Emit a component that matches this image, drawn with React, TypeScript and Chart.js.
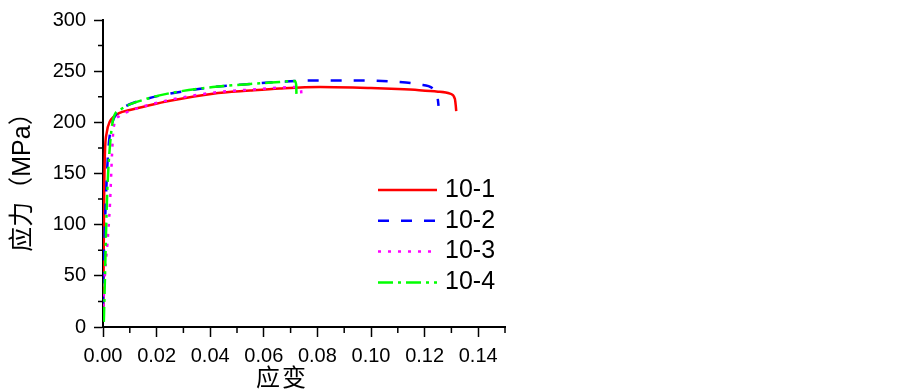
import React, { useEffect, useRef } from "react";
import { Chart, registerables } from "chart.js";

Chart.register(...registerables);

// ---- data ----
const seriesLabels = ["10-1", "10-2", "10-3", "10-4"];

const strain101 = [0.0001, 0.0004, 0.0007, 0.0014, 0.0026, 0.0038, 0.006, 0.01, 0.0163, 0.025, 0.041, 0.055, 0.066, 0.081, 0.1, 0.11, 0.118, 0.125, 0.1295, 0.1313, 0.1316, 0.1318];
const stress101 = [10, 120, 168, 190, 201, 205, 209, 212, 216, 221, 228, 231, 233, 234.5, 233.5, 232.5, 231.4, 230, 228, 223, 217, 211];

const strain102 = [0.0, 0.0001, 0.0006, 0.0011, 0.002, 0.0032, 0.0051, 0.008, 0.0163, 0.025, 0.041, 0.055, 0.066, 0.08, 0.095, 0.11, 0.118, 0.1235, 0.1247, 0.125, 0.1252];
const stress102 = [20, 48, 89, 127, 174, 196.5, 209, 215, 223, 228, 234.5, 237.5, 239.5, 241, 241, 239.5, 237, 232, 226, 221, 216];

const strain103 = [0.0001, 0.0008, 0.0016, 0.0026, 0.0034, 0.0038, 0.0045, 0.006, 0.01, 0.0163, 0.025, 0.041, 0.055, 0.066, 0.072, 0.0738, 0.0741];
const stress103 = [20, 55, 80, 120, 171, 190, 201, 206, 211, 216.5, 222, 229, 232, 234, 234.5, 233, 226];

const strain104 = [0.0003, 0.0007, 0.0011, 0.0016, 0.0026, 0.0038, 0.0063, 0.0163, 0.025, 0.041, 0.055, 0.066, 0.0716, 0.0721, 0.0722];
const stress104 = [5, 45, 89, 133, 177.5, 203, 212, 223, 228.5, 234.5, 237.5, 239.5, 240.5, 236, 225];

const xTickValues = [0, 0.02, 0.04, 0.06, 0.08, 0.1, 0.12, 0.14];
const xMinorTickValues = [0.01, 0.03, 0.05, 0.07, 0.09, 0.11, 0.13, 0.15];
const yTickValues = [0, 50, 100, 150, 200, 250, 300];
const yMinorTickValues = [25, 75, 125, 175, 225, 275];

const xTitle = "应变";
const yTitle = "应力（MPa）";

const colors = ["#ff0000", "#0000ff", "#ff00ff", "#00ff00"];
const dashes = [[], [11, 12], [3, 7], [15, 5, 3, 5]];

const toPoints = (xs: number[], ys: number[]) => xs.map((x, i) => ({ x, y: ys[i] }));

const decorPlugin = {
  id: "decor",
  afterDraw(chart: any) {
    const ctx = chart.ctx as CanvasRenderingContext2D;
    const xs = chart.scales.x;
    const ys = chart.scales.y;
    const area = chart.chartArea;
    ctx.save();
    // minor ticks
    ctx.strokeStyle = "#000";
    ctx.lineWidth = 1.5;
    ctx.beginPath();
    xMinorTickValues.forEach((v) => {
      const px = xs.getPixelForValue(v);
      ctx.moveTo(px, area.bottom);
      ctx.lineTo(px, area.bottom + 6);
    });
    yMinorTickValues.forEach((v) => {
      const py = ys.getPixelForValue(v);
      ctx.moveTo(area.left, py);
      ctx.lineTo(area.left - 5, py);
    });
    ctx.stroke();

    // legend
    const lx0 = 378, lx1 = 437, ly0 = 190, lstep = 30.8;
    chart.data.datasets.forEach((ds: any, i: number) => {
      const y = ly0 + i * lstep;
      ctx.beginPath();
      ctx.setLineDash(ds.borderDash || []);
      ctx.strokeStyle = ds.borderColor;
      ctx.lineWidth = ds.borderWidth;
      ctx.moveTo(lx0, y);
      ctx.lineTo(lx1, y);
      ctx.stroke();
      ctx.setLineDash([]);
      ctx.fillStyle = "#000";
      ctx.font = "25px 'Liberation Sans', Arial, sans-serif";
      ctx.textAlign = "left";
      ctx.textBaseline = "middle";
      ctx.fillText(ds.label, 445, y);
    });

    // axis titles
    ctx.fillStyle = "#000";
    ctx.font = "24px 'Liberation Sans', 'Noto Sans CJK SC', sans-serif";
    ctx.textAlign = "center";
    ctx.textBaseline = "middle";
    (ctx as any).letterSpacing = "2px";
    ctx.fillText(xTitle, 282, 379);
    (ctx as any).letterSpacing = "0px";
    ctx.translate(23, 176);
    ctx.rotate(-Math.PI / 2);
    ctx.font = "25px 'Liberation Sans', 'Noto Sans CJK SC', sans-serif";
    ctx.fillText(yTitle, 0, 0);
    ctx.restore();
  },
};

export default function App() {
  const ref = useRef<HTMLCanvasElement | null>(null);
  useEffect(() => {
    document.body.style.margin = "0";
    const canvas = ref.current!;
    const series = [
      toPoints(strain101, stress101),
      toPoints(strain102, stress102),
      toPoints(strain103, stress103),
      toPoints(strain104, stress104),
    ];
    const orders = [4, 3, 2, 1];
    const chart = new Chart(canvas, {
      type: "scatter",
      data: {
        datasets: series.map((data, i) => ({
          label: seriesLabels[i],
          data,
          showLine: true,
          borderColor: colors[i],
          backgroundColor: colors[i],
          borderWidth: 2.5,
          borderDash: dashes[i],
          pointRadius: 0,
          pointHoverRadius: 0,
          cubicInterpolationMode: "monotone",
          order: orders[i],
        })),
      },
      plugins: [decorPlugin],
      options: {
        animation: false,
        responsive: false,
        devicePixelRatio: 1,
        layout: { padding: { top: 11, right: 398, bottom: 0, left: 0 } },
        plugins: { legend: { display: false }, tooltip: { enabled: false } },
        scales: {
          x: {
            type: "linear",
            min: 0,
            max: 0.15,
            afterFit: (s: any) => { s.height = 64; },
            afterBuildTicks: (s: any) => { s.ticks = xTickValues.map((v) => ({ value: v })); },
            grid: { drawOnChartArea: false, drawTicks: true, tickLength: 10, tickWidth: 1.5, tickColor: "#000" },
            border: { display: true, color: "#000", width: 2 },
            ticks: {
              color: "#000",
              padding: 7,
              maxRotation: 0,
              autoSkip: false,
              font: { family: "'Liberation Sans', Arial, sans-serif", size: 20 },
              callback: (v: any) => Number(v).toFixed(2),
            },
          },
          y: {
            type: "linear",
            min: 0,
            max: 300,
            afterFit: (s: any) => { s.width = 103; },
            afterBuildTicks: (s: any) => { s.ticks = yTickValues.map((v) => ({ value: v })); },
            grid: { drawOnChartArea: false, drawTicks: true, tickLength: 9, tickWidth: 1.5, tickColor: "#000" },
            border: { display: true, color: "#000", width: 2 },
            ticks: {
              color: "#000",
              padding: 8,
              autoSkip: false,
              font: { family: "'Liberation Sans', Arial, sans-serif", size: 20 },
              callback: (v: any) => String(v),
            },
          },
        },
      } as any,
    });
    return () => chart.destroy();
  }, []);
  return (
    <div style={{ width: 903, height: 391, background: "#fff" }}>
      <canvas ref={ref} width={903} height={391} style={{ display: "block" }} />
    </div>
  );
}
